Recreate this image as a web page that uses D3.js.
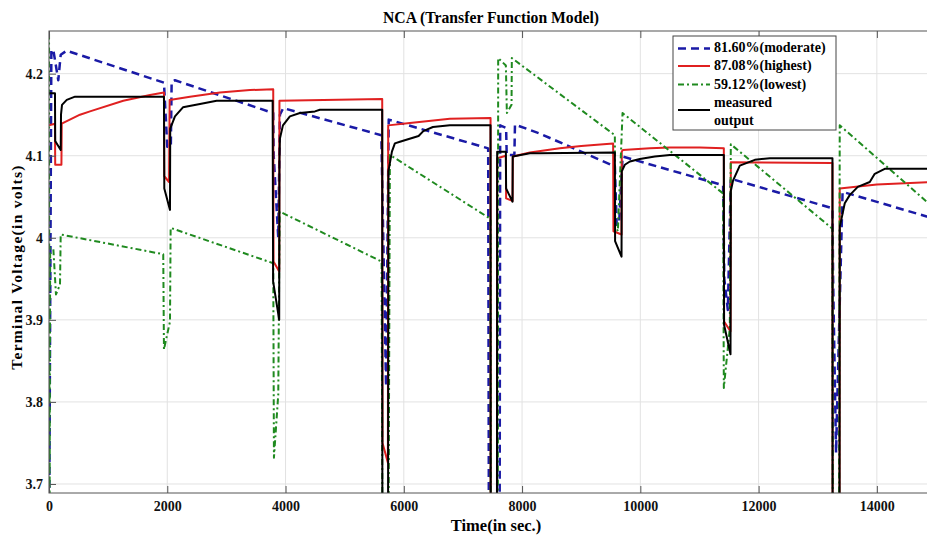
<!DOCTYPE html>
<html>
<head>
<meta charset="utf-8">
<script src="https://cdn.jsdelivr.net/npm/d3@7"></script>
<style>
  body { margin: 0; background: #fff; }
  text { font-family: "Liberation Serif", "Times New Roman", serif; font-weight: bold; }
</style>
</head>
<body>
<div class="voltage-chart"></div>
<script>
// [time (s), terminal voltage (V)]
const measured = [
    [0, 4.176], [101, 4.176], [105, 4.118], [198, 4.107], [203, 4.150], [220, 4.162], [300, 4.168], [440, 4.172],
    [1000, 4.172], [1944, 4.172], [1950, 4.060], [2046, 4.034], [2050, 4.133], [2130, 4.148], [2265, 4.159],
    [2553, 4.163], [2835, 4.167], [3782, 4.167], [3790, 3.947], [3893, 3.900], [3897, 4.093], [3905, 4.121],
    [3956, 4.137], [4074, 4.148], [4243, 4.152], [4497, 4.154], [4581, 4.156], [5635, 4.156], [5638, 3.6],
    [5733, 3.6], [5740, 4.081], [5799, 4.105], [5849, 4.115], [5934, 4.117], [6250, 4.124], [6330, 4.130],
    [6492, 4.135], [6779, 4.137], [7467, 4.137], [7470, 3.6], [7575, 3.6], [7579, 4.105], [7726, 4.105],
    [7730, 4.060], [7839, 4.044], [7842, 4.099], [8132, 4.103], [8301, 4.103], [9569, 4.104], [9573, 3.996],
    [9682, 3.977], [9686, 4.081], [9738, 4.089], [9823, 4.093], [9992, 4.096], [10245, 4.099], [10499, 4.101],
    [11412, 4.101], [11416, 3.894], [11525, 3.858], [11530, 4.057], [11569, 4.070], [11682, 4.088],
    [11936, 4.095], [12189, 4.097], [13249, 4.097], [13252, 3.6], [13368, 3.6], [13372, 4.013], [13457, 4.042],
    [13541, 4.052], [13677, 4.062], [13880, 4.068], [13964, 4.078], [14133, 4.084], [15000, 4.084]
];
const highest = [
    [0, 4.137], [101, 4.139], [105, 4.089], [210, 4.089], [215, 4.139], [524, 4.150], [693, 4.154],
    [1256, 4.167], [1708, 4.174], [1944, 4.177], [1950, 4.075], [2030, 4.068], [2040, 4.168], [2384, 4.172],
    [2891, 4.177], [3398, 4.180], [3792, 4.181], [3797, 3.971], [3893, 3.959], [3897, 4.167], [5635, 4.169],
    [5640, 3.750], [5731, 3.726], [5736, 4.137], [6103, 4.140], [6779, 4.145], [7467, 4.146], [7470, 3.6],
    [7575, 3.6], [7579, 4.097], [7726, 4.100], [7730, 4.048], [7839, 4.045], [7843, 4.099], [8132, 4.104],
    [8639, 4.109], [9000, 4.112], [9540, 4.115], [9545, 4.008], [9682, 4.004], [9686, 4.105], [9704, 4.107],
    [10161, 4.109], [10499, 4.110], [11006, 4.110], [11412, 4.109], [11416, 3.898], [11525, 3.886],
    [11530, 4.092], [13249, 4.091], [13252, 3.6], [13368, 3.6], [13372, 4.060], [14000, 4.065], [15000, 4.068]
];
const moderate = [
    [0, 3.6], [40, 4.229], [73, 4.229], [157, 4.192], [198, 4.223], [299, 4.228], [1944, 4.189],
    [2000, 4.111], [2060, 4.111], [2074, 4.190], [2130, 4.192], [3792, 4.152], [3800, 4.100], [3877, 4.000],
    [3905, 4.150], [3961, 4.158], [5620, 4.125], [5700, 3.819], [5745, 4.144], [7427, 4.109], [7440, 3.6],
    [7620, 3.6], [7630, 4.137], [7730, 4.134], [7740, 4.101], [7870, 4.101], [7880, 4.138], [8301, 4.127],
    [9569, 4.087], [9600, 4.016], [9640, 4.016], [9700, 4.099], [11400, 4.064], [11420, 3.950],
    [11480, 3.912], [11530, 4.072], [13249, 4.036], [13260, 3.950], [13310, 3.738], [13330, 3.800],
    [13420, 4.056], [14843, 4.026], [15000, 4.023]
];
const lowest = [
    [0, 4.30], [8, 3.6], [20, 3.987], [73, 3.987], [118, 3.931], [186, 3.943], [198, 4.004], [1932, 3.980],
    [1944, 3.864], [2046, 3.898], [2057, 4.012], [3792, 3.969], [3804, 3.732], [3877, 3.809], [3900, 4.032],
    [5625, 3.971], [5640, 3.6], [5740, 3.6], [5765, 4.101], [7467, 4.023], [7470, 3.6], [7590, 3.6],
    [7596, 4.219], [7726, 4.210], [7743, 4.152], [7822, 4.162], [7827, 4.219], [9569, 4.125], [9575, 4.016],
    [9620, 4.008], [9699, 4.152], [11400, 4.054], [11412, 3.817], [11513, 3.890], [11530, 4.114],
    [13249, 4.011], [13255, 3.6], [13360, 3.6], [13372, 4.137], [14843, 4.044], [15000, 4.035]
];

const xTicks = [0, 2000, 4000, 6000, 8000, 10000, 12000, 14000];
const yTicks = [3.7, 3.8, 3.9, 4.0, 4.1, 4.2];

const series = [
    { label: ['81.60%(moderate)'], data: moderate, color: '#1a1aa6', dash: '8,5', width: 2.5 },
    { label: ['87.08%(highest)'], data: highest, color: '#e02020', dash: null, width: 2 },
    { label: ['59.12%(lowest)'], data: lowest, color: '#1f8a1f', dash: '6,3,2,3', width: 2 },
    { label: ['measured', 'output'], data: measured, color: '#000000', dash: null, width: 2 }
];

const width = 927, height = 537;
const margin = { top: 31, left: 49, bottom: 44 };
const graphWidth = 887;           // right part of the frame is cut off by the window
const graphHeight = height - margin.top - margin.bottom;

const svg = d3.select('.voltage-chart')
    .append('svg')
    .attr('width', width)
    .attr('height', height);

const g = svg.append('g')
    .attr('transform', `translate(${margin.left},${margin.top})`);

const x = d3.scaleLinear().domain([0, 15000]).range([0, graphWidth]);
const y = d3.scaleLinear().domain([3.689, 4.252]).range([graphHeight, 0]);

// grid
g.append('g')
    .selectAll('line.vg')
    .data(xTicks)
    .join('line')
    .attr('x1', d => x(d)).attr('x2', d => x(d))
    .attr('y1', 0).attr('y2', graphHeight)
    .attr('stroke', '#e2e2e2');
g.append('g')
    .selectAll('line.hg')
    .data(yTicks)
    .join('line')
    .attr('x1', 0).attr('x2', graphWidth)
    .attr('y1', d => y(d)).attr('y2', d => y(d))
    .attr('stroke', '#e2e2e2');

// lines
svg.append('defs').append('clipPath').attr('id', 'plot-clip')
    .append('rect').attr('width', graphWidth).attr('height', graphHeight);

const line = d3.line()
    .x(d => x(d[0]))
    .y(d => y(d[1]));

g.append('g')
    .attr('clip-path', 'url(#plot-clip)')
    .selectAll('path')
    .data(series)
    .join('path')
    .attr('fill', 'none')
    .attr('stroke', d => d.color)
    .attr('stroke-width', d => d.width)
    .attr('stroke-dasharray', d => d.dash)
    .attr('stroke-linejoin', 'round')
    .attr('d', d => line(d.data));

// axes, MATLAB style ticks pointing inward
const xAxis = d3.axisBottom(x).tickValues(xTicks).tickSize(-7).tickPadding(8).tickFormat(d3.format('d'));
const yAxis = d3.axisLeft(y).tickValues(yTicks).tickSize(-7).tickPadding(6).tickFormat(d => d === 4 ? '4' : d3.format('.1f')(d));

const styleAxis = sel => {
    sel.select('.domain').remove();
    sel.selectAll('line').attr('stroke', '#555');
    sel.selectAll('text').style('font-size', '14px').attr('fill', '#111');
};

g.append('g').attr('transform', `translate(0,${graphHeight})`).call(xAxis).call(styleAxis);
g.append('g').call(yAxis).call(styleAxis);
g.append('g').call(d3.axisTop(x).tickValues(xTicks).tickSize(-7).tickFormat(''))
    .call(styleAxis);

g.append('rect')
    .attr('width', graphWidth).attr('height', graphHeight)
    .attr('fill', 'none').attr('stroke', '#555').attr('stroke-width', 1);

// labels
svg.append('text')
    .attr('x', 491).attr('y', 23)
    .attr('text-anchor', 'middle')
    .style('font-size', '15.7px')
    .text('NCA (Transfer Function Model)');

svg.append('text')
    .attr('x', 496).attr('y', 531)
    .attr('text-anchor', 'middle')
    .style('font-size', '16.5px')
    .text('Time(in sec.)');

svg.append('text')
    .attr('transform', 'rotate(-90)')
    .attr('x', -267).attr('y', 22)
    .attr('text-anchor', 'middle')
    .style('font-size', '15.5px')
    .style('letter-spacing', '1.3px')
    .text('Terminal Voltage(in volts)');

// legend
const legend = svg.append('g').attr('transform', 'translate(673,36)');
legend.append('rect')
    .attr('width', 163).attr('height', 94)
    .attr('fill', '#fff').attr('stroke', '#444');

const rowLine = [12.5, 30, 48.5, 74];
const rowText = [[16], [34], [52.5], [71, 88.5]];
series.forEach((s, i) => {
    legend.append('line')
        .attr('x1', 5).attr('x2', 37)
        .attr('y1', rowLine[i]).attr('y2', rowLine[i])
        .attr('stroke', s.color)
        .attr('stroke-width', s.width)
        .attr('stroke-dasharray', s.dash);
    s.label.forEach((t, j) => {
        legend.append('text')
            .attr('x', 41).attr('y', rowText[i][j])
            .style('font-size', '14px')
            .text(t);
    });
});
</script>
</body>
</html>
